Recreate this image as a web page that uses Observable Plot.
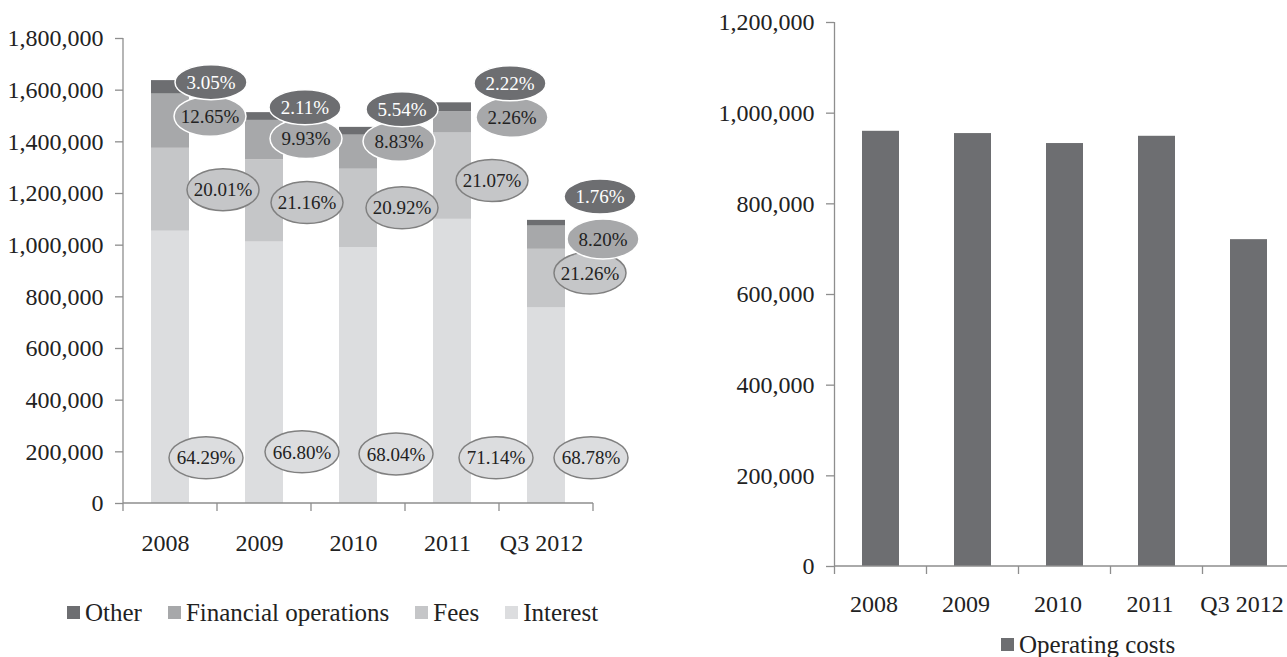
<!DOCTYPE html>
<html><head><meta charset="utf-8">
<script src="https://cdn.jsdelivr.net/npm/d3@7"></script>
<script src="https://cdn.jsdelivr.net/npm/@observablehq/plot@0.6"></script>
<style>
html,body{margin:0;padding:0;background:#fff;overflow:hidden;width:1287px;height:657px;font-family:"Liberation Serif","DejaVu Serif",serif}
#left{position:absolute;left:0;top:0;width:650px}
#right{position:absolute;left:700px;top:0;width:600px}
#left svg,#right svg{max-width:none !important}
.legend{position:absolute;display:flex;align-items:center;font-family:"Liberation Serif","DejaVu Serif",serif;font-size:25px;line-height:25px;color:#222;white-space:nowrap}
.item{display:flex;align-items:center;margin-right:26px}
.sw{display:inline-block;width:13px;height:13px;margin-right:5px}
</style></head><body>
<div id="left"></div><div id="right"></div>
<div class="legend" id="legL" style="left:67px;top:600px"></div>
<div class="legend" id="legR" style="left:1001px;top:632px"></div>
<script>
// ---- data ----
const categories = ["2008", "2009", "2010", "2011", "Q3 2012"];
const seriesNames = ["Interest", "Fees", "Financial operations", "Other"]; // bottom to top
const interest = [1054000, 1012000, 991000, 1100000, 757000];
const fees = [321000, 319000, 303000, 334000, 227000];
const financial = [210000, 152000, 132000, 83000, 90000];
const other = [52000, 30000, 30000, 34000, 22000];
const operatingCosts = [960000, 955000, 933000, 949000, 721000];
const leftTicks = [0, 200000, 400000, 600000, 800000, 1000000, 1200000, 1400000, 1600000, 1800000];
const rightTicks = [0, 200000, 400000, 600000, 800000, 1000000, 1200000];
const pctOther = ["3.05%", "2.11%", "5.54%", "2.22%", "1.76%"];
const pctFinancial = ["12.65%", "9.93%", "8.83%", "2.26%", "8.20%"];
const pctFees = ["20.01%", "21.16%", "20.92%", "21.07%", "21.26%"];
const pctInterest = ["64.29%", "66.80%", "68.04%", "71.14%", "68.78%"];

// ---- label layout (annotation anchors: y in data units, dx in px from band centre) ----
const labelLayout = [
  {pct: pctInterest, y: [175000, 198000, 190000, 175000, 175000], dx: [36, 38, 38, 44, 45], rx: 37, ry: 21, fill: "#dcdddf", stroke: "#808080", text: "#222"},
  {pct: pctFees, y: [1213000, 1163000, 1143000, 1248000, 890000], dx: [53, 43, 44, 40, 44], rx: 36, ry: 21, fill: "#c5c6c8", stroke: "#808080", text: "#222"},
  {pct: pctFinancial, y: [1497000, 1411000, 1400000, 1493000, 1022000], dx: [40, 42, 41, 60, 57], rx: 36, ry: 20, fill: "#a7a8aa", stroke: "#ffffff", text: "#222"},
  {pct: pctOther, y: [1629000, 1532000, 1524000, 1625000, 1186000], dx: [41, 41, 44, 58, 54], rx: 36, ry: 17.5, fill: "#6d6e71", stroke: "#ffffff", text: "#ffffff"}
];

const colors = ["#dcdddf", "#c5c6c8", "#a7a8aa", "#6d6e71"];
const axisColor = "#8e8e8e";
const font = "Liberation Serif";

const seriesValues = [interest, fees, financial, other];
const leftRows = [];
categories.forEach((c, i) => seriesNames.forEach((s, k) => leftRows.push({cat: c, series: s, value: seriesValues[k][i]})));
const rightRows = categories.map((c, i) => ({cat: c, value: operatingCosts[i]}));

function bandInfo(x, cats) {
  const bw = typeof x.bandwidth === "function" ? x.bandwidth() : x.bandwidth;
  const step = x(cats[1]) - x(cats[0]);
  return {bw, step};
}

function axisDecor(yMax, tick) {
  return (index, scales, values, dims) => {
    const g = d3.create("svg:g").attr("stroke", axisColor).attr("stroke-width", 1.3).attr("fill", "none");
    const {bw, step} = bandInfo(scales.x, categories);
    const x0 = scales.x(categories[0]) + bw / 2 - step / 2;
    const y0 = scales.y(0), yTop = scales.y(yMax);
    g.append("line").attr("x1", x0).attr("x2", x0).attr("y1", yTop).attr("y2", y0 + tick);
    g.append("line").attr("x1", x0).attr("x2", dims.width - dims.marginRight).attr("y1", y0).attr("y2", y0);
    categories.forEach(c => {
      const xb = scales.x(c) + bw / 2 + step / 2;
      g.append("line").attr("x1", xb).attr("x2", xb).attr("y1", y0).attr("y2", y0 + tick);
    });
    return g.node();
  };
}

function labelsMark() {
  return (index, scales) => {
    const g = d3.create("svg:g").attr("font-family", font).attr("font-size", 19);
    const {bw} = bandInfo(scales.x, categories);
    labelLayout.forEach(L => {
      categories.forEach((c, i) => {
        const cx = scales.x(c) + bw / 2 + L.dx[i];
        const cy = scales.y(L.y[i]);
        g.append("ellipse").attr("cx", cx).attr("cy", cy).attr("rx", L.rx).attr("ry", L.ry)
          .attr("fill", L.fill).attr("stroke", L.stroke).attr("stroke-width", 1.5);
        g.append("text").attr("x", cx).attr("y", cy).attr("dy", "0.35em").attr("text-anchor", "middle")
          .attr("fill", L.text).text(L.pct[i]);
      });
    });
    return g.node();
  };
}

const left = Plot.plot({
  width: 650, height: 560,
  marginLeft: 123, marginRight: 57, marginTop: 38, marginBottom: 57,
  style: {fontFamily: font, fontSize: "24px", color: "#222", background: "transparent", overflow: "visible", maxWidth: "none"},
  x: {domain: categories, paddingInner: 0.6, paddingOuter: 0.3, label: null},
  y: {domain: [0, 1800000], label: null},
  color: {domain: seriesNames, range: colors},
  marks: [
    Plot.barY(leftRows, {x: "cat", y: "value", fill: "series", order: seriesNames}),
    axisDecor(1800000, 8),
    Plot.axisY({ticks: leftTicks, tickSize: 8, tickPadding: 12, tickFormat: d3.format(","), stroke: axisColor, strokeWidth: 1.3, fontSize: 24, label: null}),
    Plot.axisX({tickSize: 0, tickPadding: 30, fontSize: 24, dx: -5, label: null}),
    labelsMark()
  ]
});
document.getElementById("left").appendChild(left);

const right = Plot.plot({
  width: 600, height: 620,
  marginLeft: 134, marginRight: 6, marginTop: 22, marginBottom: 54,
  style: {fontFamily: font, fontSize: "24px", color: "#222", background: "transparent", overflow: "visible", maxWidth: "none"},
  x: {domain: categories, paddingInner: 0.6, paddingOuter: 0.3, label: null},
  y: {domain: [0, 1200000], label: null},
  marks: [
    Plot.barY(rightRows, {x: "cat", y: "value", fill: "#6d6e71"}),
    axisDecor(1200000, 8),
    Plot.axisY({ticks: rightTicks, tickSize: 8, tickPadding: 12, tickFormat: d3.format(","), stroke: axisColor, strokeWidth: 1.3, fontSize: 24, label: null}),
    Plot.axisX({tickSize: 0, tickPadding: 28, fontSize: 24, dx: -7, label: null})
  ]
});
document.getElementById("right").appendChild(right);

// legends
const legL = document.getElementById("legL");
[["Other", colors[3]], ["Financial operations", colors[2]], ["Fees", colors[1]], ["Interest", colors[0]]].forEach(([n, c]) => {
  const it = document.createElement("span"); it.className = "item";
  it.innerHTML = `<span class="sw" style="background:${c}"></span><span>${n}</span>`;
  legL.appendChild(it);
});
const legR = document.getElementById("legR");
legR.innerHTML = `<span class="item"><span class="sw" style="background:#6d6e71"></span><span>Operating costs</span></span>`;
</script>
</body></html>
